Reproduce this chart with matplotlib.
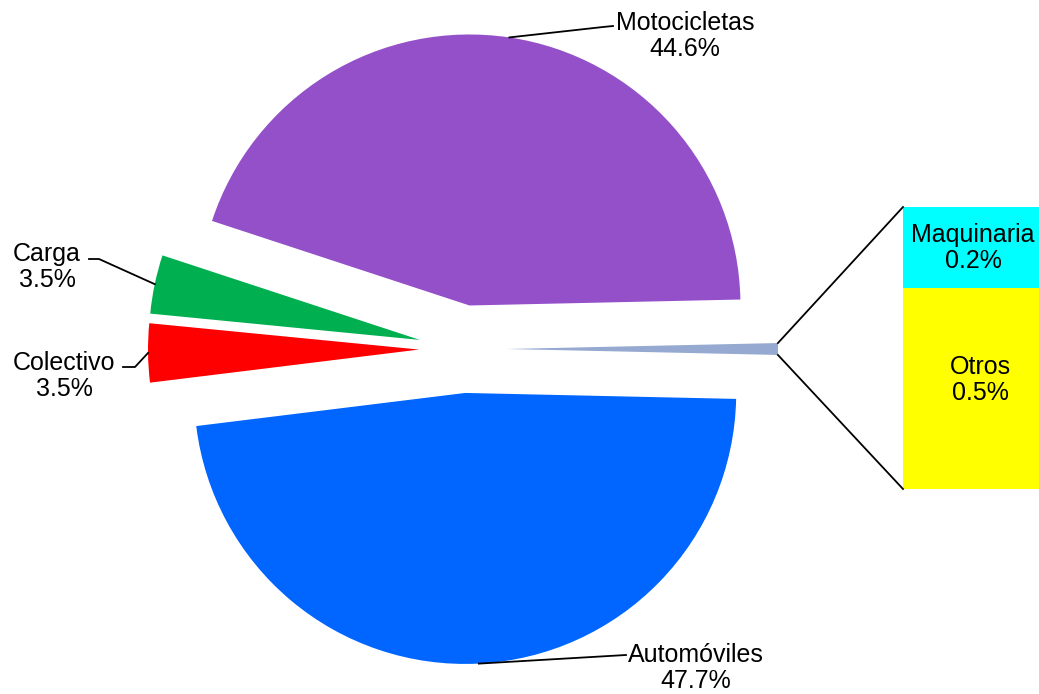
import numpy as np
import matplotlib.pyplot as plt

# ── Data ─────────────────────────────────────────────────────
pie_labels = ["Motocicletas", "Carga", "Colectivo", "Automóviles"]
pie_values = [44.6, 3.5, 3.5, 47.7]
pie_colors = ["#9450C8", "#00B050", "#FF0000", "#0066FF"]

bar_labels = ["Otros", "Maquinaria"]   # stacked bottom -> top
bar_values = [0.5, 0.2]
bar_colors = ["#FFFF00", "#00FFFF"]
other_color = "#95A9D1"

plt.rcParams["font.family"] = ["Liberation Sans", "DejaVu Sans"]
FS = 18

# figure in pixel units: x right, y up (Y = 694 - pixel row)
W, H = 1039, 694
fig = plt.figure(figsize=(W / 100, H / 100), dpi=100)
ax = fig.add_axes([0, 0, 1, 1])


def Y(py):
    return H - py


# ── Pie (other slice first, centred on 0 degrees) ────────────
other_total = sum(bar_values)
values = [other_total] + pie_values
colors = [other_color] + pie_colors
start = -other_total / sum(values) * 360 / 2

R = 271
center = (463, Y(349))
wedges, _ = ax.pie(values, radius=R, center=center, explode=[44] * len(values),
                   colors=colors, startangle=start, counterclock=True,
                   wedgeprops=dict(linewidth=0), frame=True)


def arc_point(w, ang=None):
    if ang is None:
        ang = (w.theta1 + w.theta2) / 2
    t = np.radians(ang)
    cx, cy = w.center
    return cx + w.r * np.cos(t), cy + w.r * np.sin(t)


# ── Stacked bar for the "other" slice ────────────────────────
bar_top, bar_bot = Y(207), Y(489)
scale = (bar_top - bar_bot) / other_total
bar_x, bar_w = 971, 136
bottom = bar_bot
bar_rects = []
for val, col in zip(bar_values, bar_colors):
    r = ax.bar(bar_x, val * scale, width=bar_w, bottom=bottom, color=col,
               linewidth=0)[0]
    bar_rects.append(r)
    bottom += val * scale

# connector lines from the other slice to the bar
ow = wedges[0]
p_hi = arc_point(ow, ow.theta2)
p_lo = arc_point(ow, ow.theta1)
left = bar_x - bar_w / 2
ax.plot([p_hi[0], left], [p_hi[1], bar_top], color="black", lw=1.3)
ax.plot([p_lo[0], left], [p_lo[1], bar_bot], color="black", lw=1.3)

# bar labels
bar_text_pos = [(980, Y(380)), (973, Y(248))]
for lab, val, (tx, ty) in zip(bar_labels, bar_values, bar_text_pos):
    ax.text(tx, ty, f"{lab}\n{val:.1f}%", ha="center", va="center",
            fontsize=FS, linespacing=1.15)

# ── Pie labels with leader lines ─────────────────────────────
# label centre and leader elbow points (pixel rows converted)
label_pos = {
    "Motocicletas": ((685, Y(36)), [(603, Y(27)), (613, Y(26))]),
    "Carga": ((47, Y(267)), [(99, Y(259)), (89, Y(259))]),
    "Colectivo": ((64, Y(376)), [(135, Y(367)), (123, Y(367))]),
    "Automóviles": ((696, Y(668)), [(626, Y(655))]),
}
for w, lab, val in zip(wedges[1:], pie_labels, pie_values):
    (tx, ty), elbows = label_pos[lab]
    sx, sy = arc_point(w)
    xs = [sx] + [e[0] for e in elbows]
    ys = [sy] + [e[1] for e in elbows]
    ax.plot(xs, ys, color="black", lw=1.3)
    ax.text(tx, ty, f"{lab}\n{val:.1f}%", ha="center", va="center",
            fontsize=FS, linespacing=1.15)

ax.set_xlim(0, W)
ax.set_ylim(0, H)
ax.set_aspect("equal")
ax.axis("off")

plt.savefig("out.png", dpi=100)
